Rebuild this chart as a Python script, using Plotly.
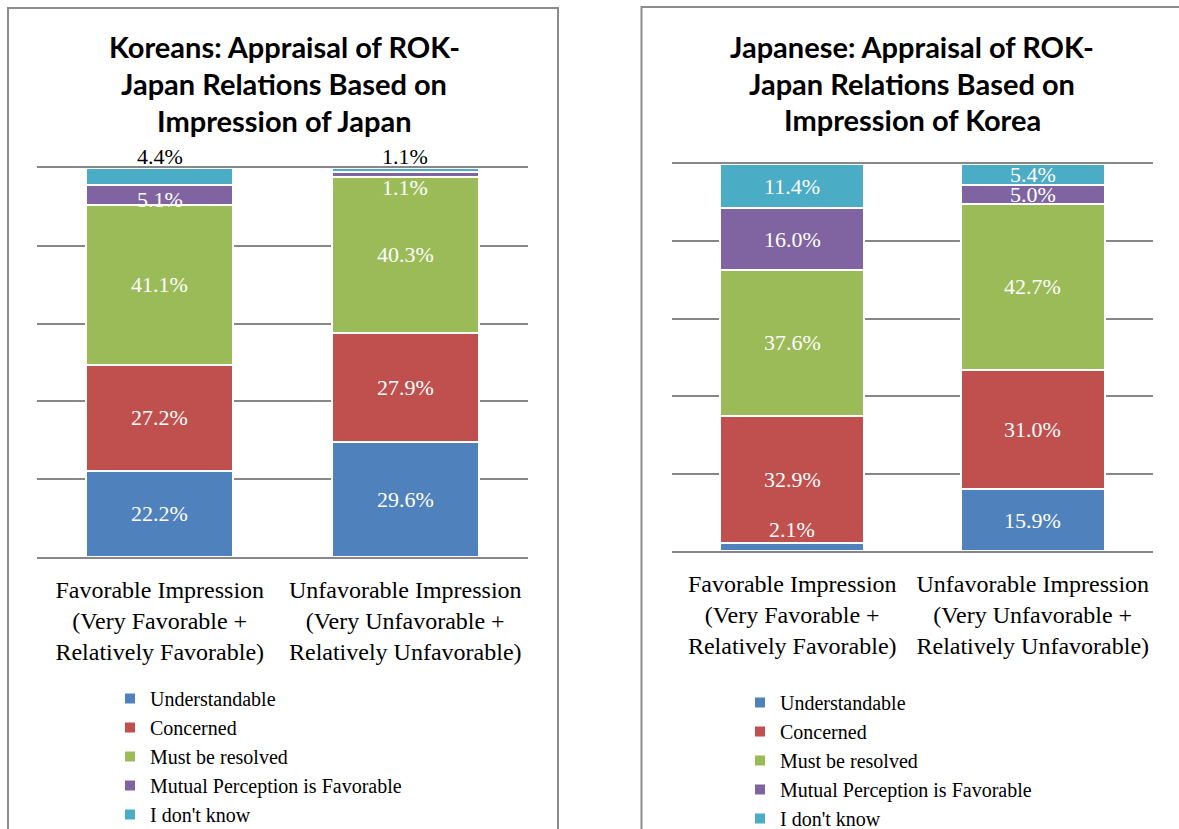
import plotly.graph_objects as go

# ---------------- data ----------------
categories = ["Favorable Impression", "Unfavorable Impression"]
category_labels = [
    "Favorable Impression<br>(Very Favorable +<br>Relatively Favorable)",
    "Unfavorable Impression<br>(Very Unfavorable +<br>Relatively Unfavorable)",
]
series_names = ["Understandable", "Concerned", "Must be resolved",
                "Mutual Perception is Favorable", "I don't know"]
colors = ["#4F81BD", "#C0504D", "#9BBB59", "#8064A2", "#4BACC6"]

korea_understandable = [22.2, 29.6]
korea_concerned = [27.2, 27.9]
korea_must_resolve = [41.1, 40.3]
korea_mutual = [5.1, 1.1]
korea_dont_know = [4.4, 1.1]

japan_understandable = [2.1, 15.9]
japan_concerned = [32.9, 31.0]
japan_must_resolve = [37.6, 42.7]
japan_mutual = [16.0, 5.0]
japan_dont_know = [11.4, 5.4]

korea_title = ["Koreans: Appraisal of ROK-", "Japan Relations Based on", "Impression of Japan"]
japan_title = ["Japanese: Appraisal of ROK-", "Japan Relations Based on", "Impression of Korea"]

korea_series = [korea_understandable, korea_concerned, korea_must_resolve, korea_mutual, korea_dont_know]
japan_series = [japan_understandable, japan_concerned, japan_must_resolve, japan_mutual, japan_dont_know]

# label placement tweaks (series index, category index) -> style
korea_label_style = {(3, 0): dict(yshift=-4), (3, 1): dict(yshift=-13),
                     (4, 0): dict(above=True), (4, 1): dict(above=True)}
japan_label_style = {(0, 0): dict(yshift=17)}

W, H = 1179, 829
SERIF = "Liberation Serif"
SANS = "Lato"


def px_x(p):
    return p / W


def px_y(p):
    return 1 - p / H


fig = go.Figure()
annotations = []

panels = [
    dict(series=korea_series, xa="x", ya="y", legend="legend", style=korea_label_style,
         title=korea_title, title_x=284, title_y=[47, 84, 121]),
    dict(series=japan_series, xa="x2", ya="y2", legend="legend2", style=japan_label_style,
         title=japan_title, title_x=912, title_y=[47, 83, 119]),
]

for panel in panels:
    cum = [0.0] * len(categories)
    for i, (name, vals) in enumerate(zip(series_names, panel["series"])):
        fig.add_trace(go.Bar(
            x=categories, y=vals, name=name,
            marker=dict(color=colors[i], line=dict(color="white", width=2)),
            xaxis=panel["xa"], yaxis=panel["ya"], legend=panel["legend"],
            hovertemplate="%{x}<br>" + name + ": %{y:.1f}%<extra></extra>",
        ))
        for j, v in enumerate(vals):
            st = panel["style"].get((i, j), {})
            if st.get("above"):
                annotations.append(dict(
                    x=categories[j], y=100, xref=panel["xa"], yref=panel["ya"],
                    text=f"{v:.1f}%", showarrow=False, yanchor="bottom", yshift=-3,
                    font=dict(family=SERIF, size=22, color="black")))
            else:
                annotations.append(dict(
                    x=categories[j], y=cum[j] + v / 2, xref=panel["xa"], yref=panel["ya"],
                    text=f"{v:.1f}%", showarrow=False, yanchor="middle",
                    yshift=st.get("yshift", 0),
                    font=dict(family=SERIF, size=22, color="white")))
            cum[j] += v
    for line, ty in zip(panel["title"], panel["title_y"]):
        annotations.append(dict(
            x=px_x(panel["title_x"]), y=px_y(ty), xref="paper", yref="paper",
            text=f"<b>{line}</b>", showarrow=False, xanchor="center", yanchor="middle",
            font=dict(family=SANS, size=29, color="black")))

axis_common_x = dict(type="category", tickmode="array", tickvals=categories,
                     ticktext=category_labels, ticks="outside", ticklen=10,
                     tickcolor="rgba(0,0,0,0)",
                     tickfont=dict(family=SERIF, size=24, color="black"),
                     showgrid=False, showline=True, mirror=True,
                     linecolor="#878787", linewidth=1.5, fixedrange=True)
axis_common_y = dict(range=[0, 100], dtick=20, tick0=0, showticklabels=False,
                     showgrid=True, gridcolor="#878787", gridwidth=1.5,
                     zeroline=False, fixedrange=True)

legend_common = dict(orientation="v", traceorder="normal", bgcolor="rgba(0,0,0,0)",
                     font=dict(family=SERIF, size=20, color="black"),
                     xanchor="left", yanchor="top", itemclick=False, itemdoubleclick=False)

shape_line = dict(color="#8c8c8c", width=2)
shapes = [
    dict(type="rect", xref="paper", yref="paper", x0=px_x(8), x1=px_x(558),
         y0=px_y(860), y1=px_y(8), line=shape_line, layer="below"),
    dict(type="rect", xref="paper", yref="paper", x0=px_x(641.5), x1=px_x(1210),
         y0=px_y(860), y1=px_y(7), line=shape_line, layer="below"),
]

fig.update_layout(
    width=W, height=H,
    margin=dict(l=0, r=0, t=0, b=0, autoexpand=False),
    paper_bgcolor="white", plot_bgcolor="white",
    barmode="stack", bargap=0.4,
    showlegend=True,
    xaxis=dict(domain=[px_x(37), px_x(528)], anchor="y", **axis_common_x),
    yaxis=dict(domain=[px_y(557), px_y(168)], anchor="x", **axis_common_y),
    xaxis2=dict(domain=[px_x(672), px_x(1153)], anchor="y2", **axis_common_x),
    yaxis2=dict(domain=[px_y(551), px_y(164)], anchor="x2", **axis_common_y),
    legend=dict(x=px_x(110), y=px_y(679), **legend_common),
    legend2=dict(x=px_x(740), y=px_y(683), **legend_common),
    annotations=annotations,
    shapes=shapes,
)

fig.write_html(
    "out.html",
    config={"displayModeBar": False},
    post_script="document.body.style.margin='0';document.body.style.overflow='hidden';",
)
